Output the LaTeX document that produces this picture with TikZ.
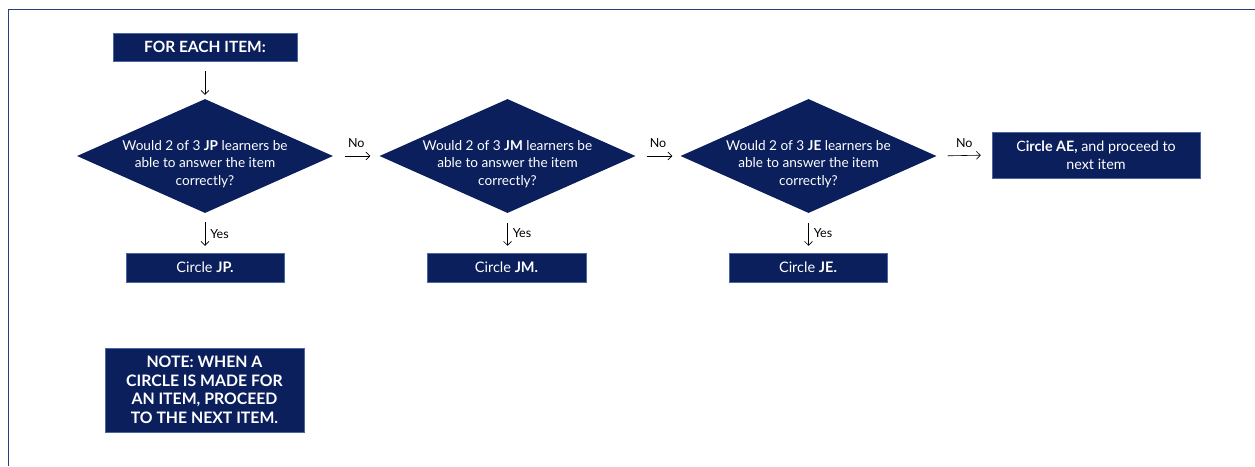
\documentclass[tikz,border=0pt]{standalone}
\usepackage{fontspec}
\setmainfont{Lato}
\usetikzlibrary{shapes.geometric,arrows.meta}
\definecolor{navy}{HTML}{0A1F5C}
\definecolor{framec}{HTML}{243F7C}
\definecolor{edgec}{HTML}{4A66A0}
\begin{document}
\begin{tikzpicture}[x=1pt,y=-1pt,
  box/.style={rectangle,fill=navy,draw=edgec,line width=0.5pt,text=white,inner sep=0pt,align=center},
  dia/.style={diamond,fill=navy,inner sep=0pt,minimum width=256pt,minimum height=114pt},
  dtext/.style={text=white,align=center,font=\fontsize{13.6}{17.8}\selectfont},
  arr/.style={draw=black,line width=0.6pt,-{Straight Barb[length=4pt,width=8pt]}},
  lbl/.style={font=\fontsize{12.5}{14}\selectfont,inner sep=0pt},
  frame/.style={draw=framec,line width=1.8pt}]
\useasboundingbox (0,0) rectangle (1255,466);
\draw[frame] (8.5,466) -- (8.5,9.5) -- (1255,9.5);

\node[box,minimum width=184pt,minimum height=28pt,font=\bfseries\fontsize{15.5}{18}\selectfont] (fe) at (205,47) {FOR EACH ITEM:};

\node[dia] (d1) at (205,156) {};
\node[dtext] (t1) at (205,164) {Would 2 of 3 \textbf{JP} learners be\\able to answer the item\\correctly?};
\node[dia] (d2) at (507.5,156) {};
\node[dtext] (t2) at (507.5,164) {Would 2 of 3 \textbf{JM} learners be\\able to answer the item\\correctly?};
\node[dia] (d3) at (808.5,156) {};
\node[dtext] (t3) at (808.5,164) {Would 2 of 3 \textbf{JE} learners be\\able to answer the item\\correctly?};

\node[box,minimum width=208pt,minimum height=46pt,font=\fontsize{14.3}{17.5}\selectfont] (ae) at (1096,155) {C\textbf{ircle AE,} and proceed to\\next item};

\node[box,minimum width=158pt,minimum height=29pt,font=\fontsize{14.5}{16}\selectfont] (c1) at (205,267.5) {Circle \textbf{JP.}};
\node[box,minimum width=159pt,minimum height=29pt,font=\fontsize{14.5}{16}\selectfont] (c2) at (506.5,267.5) {Circle \textbf{JM.}};
\node[box,minimum width=158pt,minimum height=29pt,font=\fontsize{14.5}{16}\selectfont] (c3) at (808,267.5) {Circle \textbf{JE.}};

\node[box,minimum width=199pt,minimum height=84pt,font=\bfseries\fontsize{15.8}{18.5}\selectfont] (note) at (204.5,390) {NOTE: WHEN A\\CIRCLE IS MADE FOR\\AN ITEM, PROCEED\\TO THE NEXT ITEM.};

\draw[arr,shorten <=10pt,shorten >=4pt] (fe.south) -- (d1.north);
\draw[arr,shorten <=12pt,shorten >=9pt] (d1.east) -- node[lbl,above=8pt] {No} (d2.west);
\draw[arr,shorten <=11pt,shorten >=8pt] (d2.east) -- node[lbl,above=8pt] {No} (d3.west);
\draw[arr,shorten <=11pt,shorten >=11pt] (d3.east) -- node[lbl,above=8pt] {No} (ae.west);
\draw[arr,shorten <=9pt,shorten >=7pt] (d1.south) -- node[lbl,right=5pt,yshift=-1pt] {Yes} (c1.north);
\draw[arr,shorten <=10pt,shorten >=7pt] (d2.south) -- node[lbl,right=5pt] {Yes} (c2.north-|d2.south);
\draw[arr,shorten <=10pt,shorten >=7pt] (d3.south) -- node[lbl,right=5pt] {Yes} (c3.north-|d3.south);
\end{tikzpicture}
\end{document}
